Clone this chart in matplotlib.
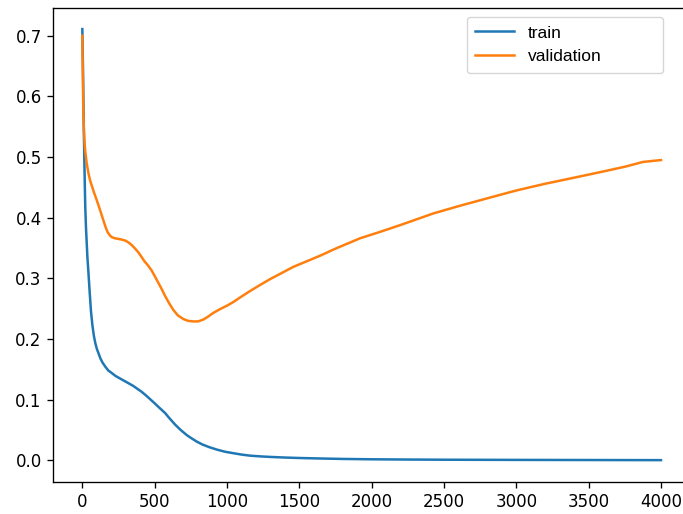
import numpy as np
import matplotlib.pyplot as plt

# =============================================================================
# Data (epoch, loss)
# =============================================================================

train_epochs = [0, 5, 10, 15, 20, 25, 30, 35, 41, 50, 60, 70, 80, 90, 100, 111,
                125, 140, 160, 180, 203, 230, 260, 290, 320, 350, 380, 410, 440,
                468, 500, 540, 572, 600, 641, 680, 720, 744, 790, 831, 880, 931,
                990, 1050, 1100, 1159, 1230, 1300, 1400, 1505, 1650, 1800, 2000,
                2250, 2500, 3000, 3500, 4000]
train_loss = [0.711, 0.64, 0.55, 0.48, 0.42, 0.385, 0.36, 0.335, 0.314, 0.28,
              0.245, 0.222, 0.205, 0.193, 0.184, 0.177, 0.168, 0.161, 0.154,
              0.148, 0.144, 0.139, 0.135, 0.131, 0.127, 0.123, 0.118, 0.113,
              0.107, 0.101, 0.094, 0.085, 0.078, 0.070, 0.059, 0.050, 0.042,
              0.038, 0.031, 0.026, 0.0215, 0.0176, 0.014, 0.0115, 0.0095, 0.0077,
              0.0065, 0.0056, 0.0046, 0.0038, 0.0030, 0.0023, 0.0017, 0.0013,
              0.0010, 0.0007, 0.0005, 0.0003]

val_epochs = [0, 3, 6, 10, 15, 20, 30, 41, 53, 65, 80, 95, 111, 130, 145, 160,
              175, 190, 203, 226, 250, 272, 300, 320, 341, 365, 387, 410, 430,
              455, 479, 500, 520, 545, 572, 600, 629, 660, 698, 730, 767, 800,
              836, 870, 905, 950, 1000, 1044, 1100, 1159, 1228, 1300, 1380, 1459,
              1550, 1650, 1750, 1850, 1919, 2050, 2200, 2426, 2600, 2800, 3002,
              3200, 3400, 3578, 3750, 3877, 4000]
val_loss = [0.700, 0.64, 0.59, 0.55, 0.525, 0.51, 0.49, 0.475, 0.462, 0.453,
            0.442, 0.432, 0.421, 0.407, 0.396, 0.385, 0.376, 0.371, 0.368, 0.366,
            0.365, 0.364, 0.362, 0.359, 0.355, 0.349, 0.343, 0.335, 0.328, 0.321,
            0.313, 0.304, 0.295, 0.284, 0.271, 0.259, 0.248, 0.239, 0.233, 0.230,
            0.229, 0.229, 0.232, 0.237, 0.243, 0.249, 0.255, 0.261, 0.270, 0.279,
            0.289, 0.299, 0.309, 0.319, 0.328, 0.338, 0.349, 0.359, 0.366, 0.376,
            0.388, 0.407, 0.419, 0.432, 0.445, 0.456, 0.466, 0.475, 0.484, 0.492,
            0.495]

# =============================================================================
# Plot
# =============================================================================

plt.rcParams.update({'font.size': 12})

fig = plt.figure(figsize=(6.83, 5.14), dpi=100)
ax = fig.add_axes([53.4 / 683, 32.3 / 514, 636.5 / 683, 474.2 / 514])

ax.plot(train_epochs, train_loss, color='#1f77b4', linewidth=1.8, label='train')
ax.plot(val_epochs, val_loss, color='#ff7f0e', linewidth=1.8, label='validation')

ax.set_xticks(np.arange(0, 4001, 500))
ax.set_yticks(np.arange(0, 0.71, 0.1))
ax.tick_params(length=4.2, width=0.96, pad=4.2, labelsize=12)
for spine in ax.spines.values():
    spine.set_linewidth(0.96)

# legend box spans x 466.7..663.3 px, top at 16.7 px
ax.legend(loc='upper left', mode='expand',
          bbox_to_anchor=(466.7 / 683, 1 - 76 / 514, 196.6 / 683, 59.3 / 514),
          bbox_transform=fig.transFigure, borderaxespad=0,
          prop={'family': 'Liberation Sans', 'size': 12.5},
          handlelength=2.2, handletextpad=0.8, borderpad=0.5)

plt.savefig('out.png', dpi=100)
